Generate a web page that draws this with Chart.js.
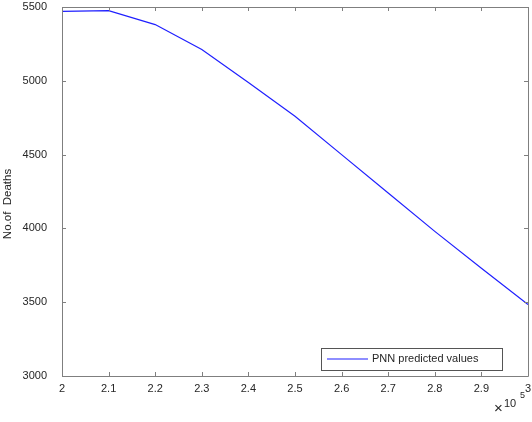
<!DOCTYPE html>
<html>
<head>
<meta charset="utf-8">
<script src="https://cdn.jsdelivr.net/npm/chart.js@4"></script>
<style>
  html, body { margin: 0; padding: 0; background: #fff; }
  #wrap { width: 532px; height: 422px; }
</style>
</head>
<body>
<div id="wrap"><canvas id="chart" width="532" height="422"></canvas></div>
<script>
// x values (in units of 10^5) and predicted deaths
var xValues = [2.0, 2.1, 2.2, 2.3, 2.4, 2.5, 2.6, 2.7, 2.8, 2.9, 3.0];
var deaths = [5470, 5475, 5381, 5212, 4988, 4760, 4500, 4240, 3980, 3730, 3485];
var xTicks = [2, 2.1, 2.2, 2.3, 2.4, 2.5, 2.6, 2.7, 2.8, 2.9, 3];
var yTicks = [3000, 3500, 4000, 4500, 5000, 5500];
var seriesLabel = 'PNN predicted values';
var yTitle = 'No.of  Deaths';

var axisColor = '#7f7f7f';
var textColor = '#262626';
var font = 'Liberation Sans, Arial, sans-serif';

// box round the plot, inward ticks on all sides, y title, x10^5 note, legend
var matlabLook = {
    id: 'matlabLook',
    afterDraw: function(chart) {
        var ctx = chart.ctx;
        var a = chart.chartArea;
        var xs = chart.scales.x, ys = chart.scales.y;
        ctx.save();
        ctx.strokeStyle = axisColor;
        ctx.lineWidth = 1;
        ctx.beginPath();
        ctx.rect(Math.round(a.left) + 0.5, Math.round(a.top) + 0.5,
                 Math.round(a.right - a.left), Math.round(a.bottom - a.top));
        ctx.stroke();

        var t = 4;
        ctx.beginPath();
        xTicks.forEach(function(v) {
            var px = Math.round(xs.getPixelForValue(v)) + 0.5;
            ctx.moveTo(px, a.bottom); ctx.lineTo(px, a.bottom - t);
            ctx.moveTo(px, a.top); ctx.lineTo(px, a.top + t);
        });
        yTicks.forEach(function(v) {
            var py = Math.round(ys.getPixelForValue(v)) + 0.5;
            ctx.moveTo(a.left, py); ctx.lineTo(a.left + t, py);
            ctx.moveTo(a.right, py); ctx.lineTo(a.right - t, py);
        });
        ctx.stroke();

        // y axis title (sits a bit below the middle, as in the original)
        ctx.fillStyle = textColor;
        ctx.save();
        ctx.translate(8, 204);
        ctx.rotate(-Math.PI / 2);
        ctx.font = '11.5px ' + font;
        ctx.textAlign = 'center';
        ctx.textBaseline = 'middle';
        ctx.fillText(yTitle, 0, 0);
        ctx.restore();

        // exponent note
        ctx.textBaseline = 'alphabetic';
        ctx.font = '15px ' + font;
        ctx.fillText('\u00d7', 494, 413);
        ctx.font = '11px ' + font;
        ctx.fillText('10', 504, 407);
        ctx.font = '9px ' + font;
        ctx.fillText('5', 520, 398);

        // legend box
        var lx = 321, ly = 348, lw = 181, lh = 22;
        ctx.fillStyle = '#fff';
        ctx.fillRect(lx, ly, lw, lh);
        ctx.strokeStyle = '#555';
        ctx.lineWidth = 1;
        ctx.strokeRect(lx + 0.5, ly + 0.5, lw, lh);
        ctx.strokeStyle = chart.data.datasets[0].borderColor;
        ctx.lineWidth = 1.2;
        ctx.beginPath();
        ctx.moveTo(327, 359); ctx.lineTo(368, 359);
        ctx.stroke();
        ctx.fillStyle = textColor;
        ctx.font = '11px ' + font;
        ctx.textBaseline = 'middle';
        ctx.fillText(chart.data.datasets[0].label, 372, 359);
        ctx.restore();
    }
};

new Chart(document.getElementById('chart'), {
    type: 'line',
    data: {
        datasets: [{
            label: seriesLabel,
            data: xValues.map(function(x, i) { return { x: x, y: deaths[i] }; }),
            borderColor: '#1f1fff',
            borderWidth: 1.2,
            pointRadius: 0,
            tension: 0,
            fill: false
        }]
    },
    options: {
        responsive: false,
        animation: false,
        layout: { padding: { left: 0, top: 7, right: 4, bottom: 0 } },
        plugins: { legend: { display: false }, tooltip: { enabled: false } },
        scales: {
            x: {
                type: 'linear',
                min: 2, max: 3,
                afterFit: function(s) {
                    s.height = 46;
                    s.paddingLeft = 0; s.paddingRight = 0;
                },
                afterBuildTicks: function(s) { s.ticks = xTicks.map(function(v) { return { value: v }; }); },
                grid: { display: false, drawTicks: false },
                border: { display: false },
                ticks: {
                    padding: 6,
                    color: textColor,
                    font: { family: font, size: 11 },
                    maxRotation: 0,
                    callback: function(v) { return String(Math.round(v * 10) / 10); }
                }
            },
            y: {
                min: 3000, max: 5500,
                afterFit: function(s) {
                    s.width = 62;
                    s.paddingTop = 0; s.paddingBottom = 0;
                },
                afterBuildTicks: function(s) { s.ticks = yTicks.map(function(v) { return { value: v }; }); },
                grid: { display: false, drawTicks: false },
                border: { display: false },
                ticks: {
                    padding: 15,
                    color: textColor,
                    font: { family: font, size: 11 },
                    callback: function(v) { return String(v); }
                }
            }
        }
    },
    plugins: [matlabLook]
});
</script>
</body>
</html>
